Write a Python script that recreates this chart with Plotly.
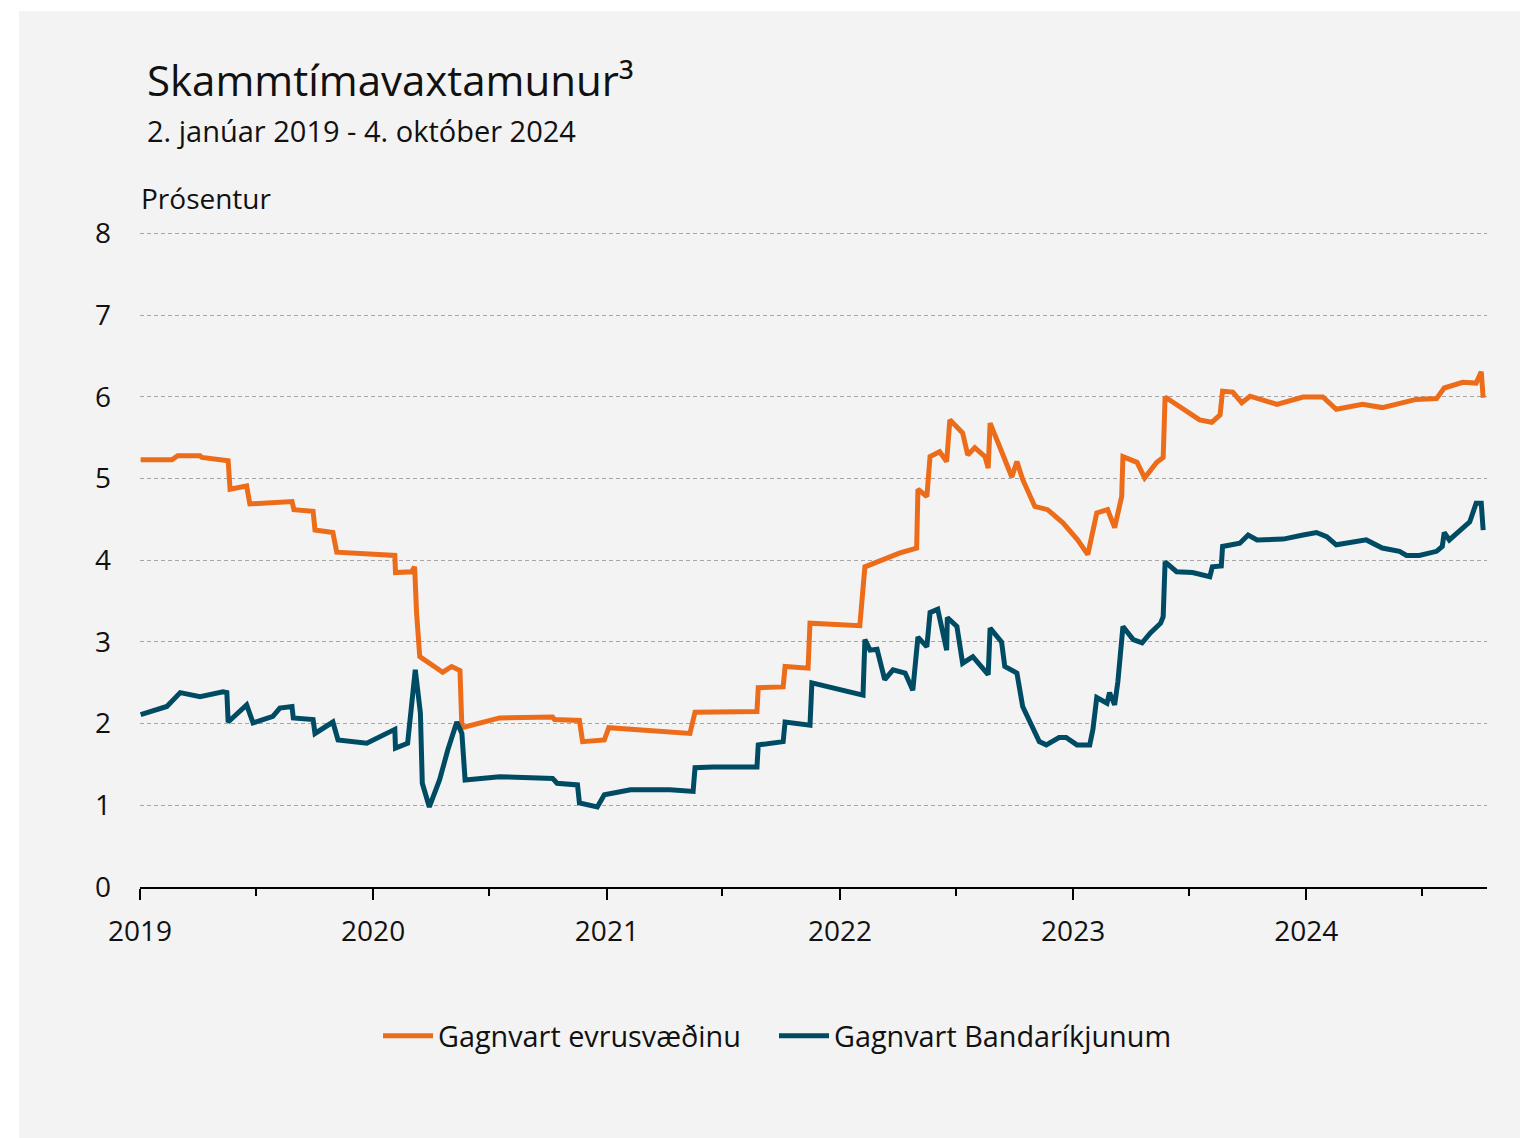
import plotly.graph_objects as go

# ---- data ----
eur_dates = [
    "2019-01-02", "2019-02-20", "2019-03-01", "2019-04-05", "2019-04-08", "2019-05-19",
    "2019-05-22", "2019-06-17", "2019-06-22", "2019-08-27", "2019-08-30", "2019-09-29",
    "2019-10-02", "2019-10-30", "2019-11-05", "2019-12-30", "2020-02-04", "2020-02-05",
    "2020-03-01", "2020-03-06", "2020-03-09", "2020-03-14", "2020-04-06", "2020-04-19",
    "2020-05-03", "2020-05-16", "2020-05-19", "2020-07-17", "2020-10-08", "2020-10-11",
    "2020-11-19", "2020-11-24", "2020-12-28", "2021-01-04", "2021-05-11", "2021-05-19",
    "2021-08-24", "2021-08-26", "2021-10-04", "2021-10-07", "2021-11-12", "2021-11-15",
    "2022-02-01", "2022-02-09", "2022-04-05", "2022-05-01", "2022-05-03", "2022-05-17",
    "2022-05-22", "2022-06-06", "2022-06-17", "2022-06-22", "2022-07-12", "2022-07-20",
    "2022-07-31", "2022-08-16", "2022-08-21", "2022-08-24", "2022-09-08", "2022-09-27",
    "2022-10-05", "2022-10-14", "2022-11-02", "2022-11-22", "2022-12-16", "2023-01-08",
    "2023-01-24", "2023-02-07", "2023-02-24", "2023-03-07", "2023-03-18", "2023-03-20",
    "2023-04-11", "2023-04-23", "2023-05-12", "2023-05-22", "2023-05-25", "2023-06-12",
    "2023-07-18", "2023-08-06", "2023-08-19", "2023-08-23", "2023-09-08", "2023-09-22",
    "2023-10-05", "2023-11-16", "2023-12-27", "2024-01-27", "2024-02-17", "2024-03-29",
    "2024-04-29", "2024-06-21", "2024-07-23", "2024-08-04", "2024-09-02", "2024-09-23",
    "2024-10-01", "2024-10-04",
]
eur_values = [
    5.23, 5.23, 5.28, 5.28, 5.26, 5.22,
    4.87, 4.91, 4.69, 4.72, 4.62, 4.60,
    4.37, 4.34, 4.10, 4.08, 4.06, 3.85,
    3.86, 3.92, 3.36, 2.82, 2.70, 2.63,
    2.70, 2.65, 1.95, 2.07, 2.08, 2.05,
    2.04, 1.78, 1.80, 1.95, 1.88, 2.14,
    2.15, 2.44, 2.45, 2.70, 2.68, 3.23,
    3.20, 3.92, 4.09, 4.15, 4.87, 4.78,
    5.27, 5.33, 5.21, 5.72, 5.56, 5.29,
    5.38, 5.27, 5.13, 5.68, 5.39, 5.02,
    5.21, 4.99, 4.66, 4.62, 4.46, 4.25,
    4.07, 4.58, 4.62, 4.40, 4.78, 5.27,
    5.20, 5.01, 5.20, 5.26, 6.00, 5.91,
    5.72, 5.69, 5.78, 6.07, 6.06, 5.93,
    6.01, 5.91, 6.00, 6.00, 5.85, 5.91,
    5.87, 5.97, 5.98, 6.11, 6.18, 6.17,
    6.31, 5.99,
]

usd_dates = [
    "2019-01-02", "2019-02-12", "2019-03-05", "2019-04-05", "2019-05-11", "2019-05-17",
    "2019-05-19", "2019-06-17", "2019-06-27", "2019-07-28", "2019-08-08", "2019-08-27",
    "2019-08-29", "2019-09-29", "2019-10-02", "2019-10-30", "2019-11-07", "2019-12-22",
    "2020-02-04", "2020-02-05", "2020-02-24", "2020-03-01", "2020-03-07", "2020-03-15",
    "2020-03-18", "2020-03-29", "2020-04-14", "2020-04-27", "2020-05-11", "2020-05-19",
    "2020-05-24", "2020-07-17", "2020-10-08", "2020-10-15", "2020-11-16", "2020-11-19",
    "2020-12-17", "2020-12-28", "2021-02-07", "2021-04-10", "2021-05-16", "2021-05-19",
    "2021-06-16", "2021-08-24", "2021-08-26", "2021-10-04", "2021-10-07", "2021-11-15",
    "2021-11-18", "2022-02-06", "2022-02-09", "2022-02-17", "2022-02-28", "2022-03-12",
    "2022-03-25", "2022-04-13", "2022-04-25", "2022-05-03", "2022-05-17", "2022-05-22",
    "2022-06-03", "2022-06-17", "2022-06-18", "2022-07-03", "2022-07-12", "2022-07-28",
    "2022-08-21", "2022-08-24", "2022-09-11", "2022-09-16", "2022-10-05", "2022-10-14",
    "2022-11-09", "2022-11-20", "2022-12-10", "2022-12-21", "2023-01-07", "2023-01-27",
    "2023-02-01", "2023-02-07", "2023-02-23", "2023-02-27", "2023-03-07", "2023-03-12",
    "2023-03-20", "2023-04-05", "2023-04-19", "2023-05-02", "2023-05-18", "2023-05-22",
    "2023-05-25", "2023-06-12", "2023-07-07", "2023-08-03", "2023-08-07", "2023-08-21",
    "2023-08-23", "2023-09-19", "2023-10-02", "2023-10-16", "2023-11-26", "2023-12-27",
    "2024-01-17", "2024-02-02", "2024-02-17", "2024-04-04", "2024-04-29", "2024-05-26",
    "2024-06-06", "2024-06-26", "2024-07-23", "2024-08-01", "2024-08-04", "2024-08-12",
    "2024-09-02", "2024-09-13", "2024-09-23", "2024-10-01", "2024-10-04",
]
usd_values = [
    2.11, 2.21, 2.38, 2.33, 2.39, 2.38,
    2.02, 2.23, 2.01, 2.09, 2.19, 2.21,
    2.07, 2.05, 1.88, 2.02, 1.80, 1.76,
    1.93, 1.70, 1.76, 2.19, 2.66, 2.13,
    1.27, 0.98, 1.31, 1.68, 2.02, 1.88,
    1.31, 1.35, 1.33, 1.27, 1.25, 1.03,
    0.98, 1.13, 1.19, 1.19, 1.17, 1.46,
    1.47, 1.47, 1.74, 1.78, 2.02, 1.98,
    2.50, 2.35, 3.03, 2.90, 2.91, 2.54,
    2.66, 2.62, 2.41, 3.06, 2.94, 3.36,
    3.40, 2.90, 3.30, 3.19, 2.74, 2.82,
    2.60, 3.17, 3.00, 2.70, 2.62, 2.21,
    1.78, 1.74, 1.83, 1.83, 1.74, 1.74,
    1.93, 2.32, 2.25, 2.38, 2.23, 2.51,
    3.19, 3.03, 2.99, 3.11, 3.23, 3.31,
    3.98, 3.86, 3.85, 3.80, 3.92, 3.93,
    4.17, 4.21, 4.31, 4.25, 4.26, 4.31,
    4.34, 4.29, 4.19, 4.25, 4.15, 4.11,
    4.06, 4.06, 4.11, 4.17, 4.34, 4.25,
    4.40, 4.47, 4.70, 4.70, 4.37,
]

series_names = ["Gagnvart evrusvæðinu", "Gagnvart Bandaríkjunum"]
y_ticks = [0, 1, 2, 3, 4, 5, 6, 7, 8]
title_text = "Skammtímavaxtamunur³"
subtitle_text = "2. janúar 2019 - 4. október 2024"
unit_text = "Prósentur"

# ---- style ----
FONT = "'Open Sans', sans-serif"
TXT = "#111111"
ORANGE = "#EC6C1A"
BLUE = "#004B64"
PANEL = "#F3F3F3"

fig = go.Figure()
fig.add_trace(go.Scatter(x=eur_dates, y=eur_values, mode="lines", name=series_names[0],
                         line=dict(color=ORANGE, width=5)))
fig.add_trace(go.Scatter(x=usd_dates, y=usd_values, mode="lines", name=series_names[1],
                         line=dict(color=BLUE, width=5)))

# plot area in page pixels: left 140, bottom 887, width 1347, height 655
PW, PH = 1347, 655

def px(page_x):
    return (page_x - 140) / PW

def py(page_y):
    return (887 - page_y) / PH

fig.update_layout(
    width=1520, height=1130,
    margin=dict(l=132, r=41, t=224, b=251),
    paper_bgcolor=PANEL,
    plot_bgcolor="rgba(0,0,0,0)",
    font=dict(family=FONT, color=TXT, size=28),
    showlegend=True,
    legend=dict(orientation="h", x=px(378), xanchor="left", y=py(1036), yanchor="middle",
                bgcolor="rgba(0,0,0,0)", font=dict(size=28.8, color=TXT), itemwidth=50,
                entrywidth=331, entrywidthmode="pixels", traceorder="normal"),
    shapes=[
        # white page margins left and top of the grey panel
        dict(type="rect", xref="paper", yref="paper", layer="below",
             x0=px(0), x1=px(19), y0=py(1200), y1=py(0),
             fillcolor="white", line=dict(width=0)),
        dict(type="rect", xref="paper", yref="paper", layer="below",
             x0=px(0), x1=px(1600), y0=py(11), y1=py(0),
             fillcolor="white", line=dict(width=0)),
    ],
    annotations=[
        dict(text=title_text, xref="paper", yref="paper", x=px(145), y=py(80),
             xanchor="left", yanchor="middle", showarrow=False, font=dict(size=42, color=TXT)),
        dict(text=subtitle_text, xref="paper", yref="paper", x=px(145), y=py(130),
             xanchor="left", yanchor="middle", showarrow=False, font=dict(size=29, color=TXT)),
        dict(text=unit_text, xref="paper", yref="paper", x=px(139), y=py(198),
             xanchor="left", yanchor="middle", showarrow=False, font=dict(size=28, color=TXT)),
    ],
)

fig.update_xaxes(
    type="date", range=["2019-01-01", "2024-10-10"],
    showgrid=False, zeroline=False,
    showline=True, linecolor="black", linewidth=2,
    ticks="outside", ticklen=11, tickwidth=2, tickcolor="black",
    dtick="M12", tick0="2019-01-01", tickformat="%Y",
    ticklabelstandoff=7,
    tickfont=dict(size=28, color=TXT),
    minor=dict(dtick="M6", tick0="2019-01-01", ticks="outside", ticklen=7, tickwidth=2,
               tickcolor="black", showgrid=False),
)
fig.update_yaxes(
    range=[0, 8.02], tickvals=y_ticks, ticktext=[str(v) for v in y_ticks],
    showgrid=True, gridcolor="#A6A6A6", gridwidth=1, griddash="4px,3px",
    zeroline=False, showline=False, ticks="",
    ticklabelstandoff=28,
    tickfont=dict(size=28, color=TXT),
)

fig.write_html("out.html")
